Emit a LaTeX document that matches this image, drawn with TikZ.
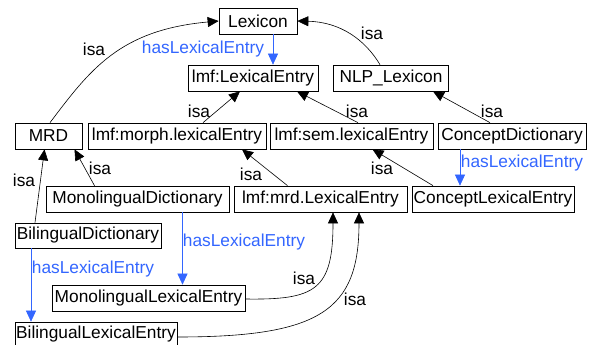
\documentclass[tikz,border=0pt]{standalone}
\usepackage{fontspec}
\setmainfont{Liberation Sans}
\usetikzlibrary{arrows.meta}
\definecolor{relblue}{RGB}{51,102,255}
\begin{document}
\begin{tikzpicture}[x=1pt,y=-1pt,
  font=\fontsize{17.3}{20}\selectfont,
  box/.style={draw=black,line width=0.7pt,rectangle,inner sep=0pt,minimum height=26pt,fill=white},
  isaedge/.style={draw=black,line width=0.6pt,-{Triangle[length=11pt,width=10pt]}},
  hasedge/.style={draw=relblue,line width=0.6pt,-{Triangle[length=11pt,width=10pt]}},
  lbl/.style={inner sep=0pt,text=black},
  blbl/.style={inner sep=0pt,text=relblue}]
\clip (0,0) rectangle (592,345);
\fill[white] (0,0) rectangle (592,345);
% nodes
\node[box,minimum width=78pt]  (lex)   at (258,21)    {Lexicon};
\node[box,minimum width=130pt] (lle)   at (253,78)    {lmf:LexicalEntry};
\node[box,minimum width=115pt] (nlp)   at (391,78)    {NLP\_Lexicon};
\node[box,minimum width=67pt]  (mrd)   at (48.5,136)  {MRD};
\node[box,minimum width=178pt] (morph) at (177,136)   {lmf:morph.lexicalEntry};
\node[box,minimum width=163pt] (sem)   at (351.5,136) {lmf:sem.lexicalEntry};
\node[box,minimum width=148pt] (cd)    at (512,136)   {ConceptDictionary};
\node[box,minimum width=183pt] (md)    at (137.5,199) {MonolingualDictionary};
\node[box,minimum width=173pt] (mrdle) at (320.5,199) {lmf:mrd.LexicalEntry};
\node[box,minimum width=162pt] (cle)   at (493,199)   {ConceptLexicalEntry};
\node[box,minimum width=146pt,minimum height=25pt] (bd)  at (88,235.5)  {BilingualDictionary};
\node[box,minimum width=193pt] (mle)   at (148.5,298) {MonolingualLexicalEntry};
\node[box,minimum width=162pt,minimum height=25pt] (ble) at (96,334.5) {BilingualLexicalEntry};
% has lexical entry edges
\draw[hasedge] ([xshift=15pt]lex.south) -- ([xshift=20pt]lle.north);
\draw[hasedge] ([xshift=-52pt]cd.south) -- ([xshift=-33pt]cle.north);
\draw[hasedge] ([xshift=45pt]md.south) -- ([xshift=34pt]mle.north);
\draw[hasedge] ([xshift=-57pt]bd.south) -- ([xshift=-65pt]ble.north);
% isa edges
\draw[isaedge] ([xshift=1.5pt]mrd.north) .. controls +(40,-53) and +(-99,9) .. (lex.west);
\draw[isaedge] ([xshift=-11pt]nlp.north) .. controls +(-15,-25) and +(43,1) .. (lex.east);
\draw[isaedge] ([xshift=26pt]morph.north) -- ([xshift=-13pt]lle.south);
\draw[isaedge] ([xshift=6.5pt]sem.north) -- ([xshift=44pt]lle.south);
\draw[isaedge] ([xshift=-22pt]cd.north) -- ([xshift=42pt]nlp.south);
\draw[isaedge] ([xshift=-60pt]cle.north) -- ([xshift=21pt]sem.south);
\draw[isaedge] ([xshift=-33pt]mrdle.north) -- ([xshift=65pt]morph.south);
\draw[isaedge] ([xshift=-43pt]md.north) -- ([xshift=26pt]mrd.south);
\draw[isaedge] ([xshift=-53pt]bd.north) -- ([xshift=-4pt]mrd.south);
\draw[isaedge] ([yshift=-1pt]mle.east) .. controls +(70,1) and +(0,78) .. ([xshift=12.5pt]mrdle.south);
\draw[isaedge] ([yshift=-2.5pt]ble.east) .. controls +(143,0) and +(0,98) .. ([xshift=38.5pt]mrdle.south);
% labels
\node[lbl]  (l1)  at (94,49)   {isa};
\node[lbl]  (l2)  at (372,33)  {isa};
\node[blbl] (l3)  at (203,49)  {hasLexicalEntry};
\node[lbl]  (l4)  at (199,111) {isa};
\node[lbl]  (l5)  at (357,111) {isa};
\node[lbl]  (l6)  at (492,111) {isa};
\node[blbl] (l7)  at (522,163) {hasLexicalEntry};
\node[lbl]  (l8)  at (382,168) {isa};
\node[lbl]  (l9)  at (251,174) {isa};
\node[lbl]  (l10) at (100,168) {isa};
\node[lbl]  (l11) at (24,180)  {isa};
\node[blbl] (l12) at (244,242) {hasLexicalEntry};
\node[blbl] (l13) at (93,269)  {hasLexicalEntry};
\node[lbl]  (l14) at (304,278) {isa};
\node[lbl]  (l15) at (355,299) {isa};
\end{tikzpicture}
\end{document}
